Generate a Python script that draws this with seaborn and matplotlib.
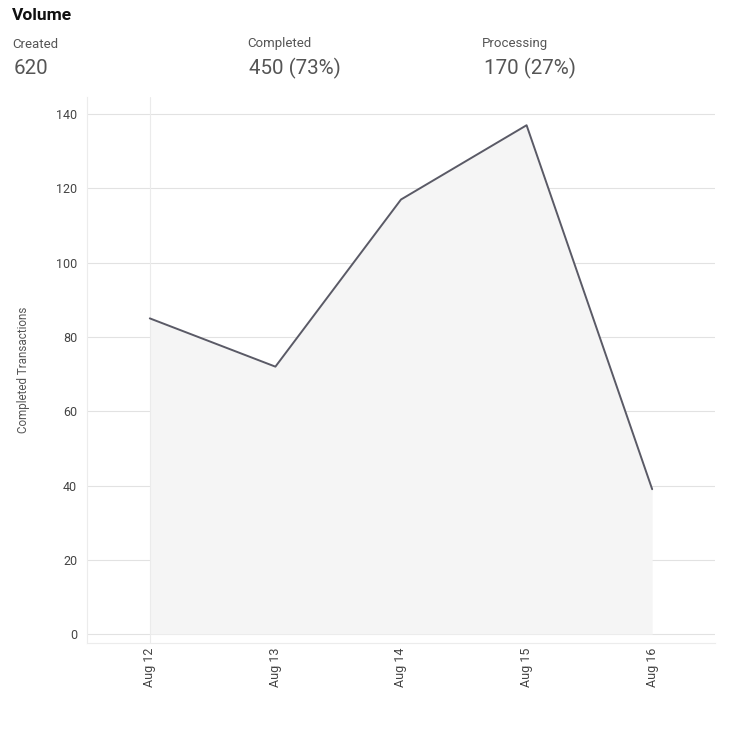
import numpy as np
import pandas as pd
import seaborn as sns
import matplotlib.pyplot as plt

days = ["Aug 12", "Aug 13", "Aug 14", "Aug 15", "Aug 16"]
completed = [85, 72, 117, 137, 39]
yticks = [0, 20, 40, 60, 80, 100, 120, 140]

summary_labels = ["Created", "Completed", "Processing"]
summary_values = ["620", "450 (73%)", "170 (27%)"]

df = pd.DataFrame({"day": days, "completed": completed})

sns.set_style("white")
plt.rcParams["font.family"] = ["Roboto", "DejaVu Sans"]

fig = plt.figure(figsize=(7.38, 7.31), dpi=100)
ax = fig.add_axes([0.1179, 0.1204, 0.8509, 0.7469])

pos = np.arange(len(days))
ax.fill_between(pos, df["completed"], 0, color="#f5f5f5", zorder=1, linewidth=0)
ax.axvline(0, color="#ebebeb", lw=0.8, zorder=1.5)
sns.lineplot(data=df, x="day", y="completed", ax=ax, color="#5a5a66", lw=1.4, zorder=3)

ax.set_xlim(-0.5, 4.5)
ax.set_ylim(-2.4, 144.6)
ax.set_yticks(yticks)
ax.yaxis.grid(True, color="#e2e2e2", lw=0.8, zorder=0)
ax.set_axisbelow(True)
ax.set_xticks(pos)
ax.set_xticklabels(days, rotation=90, fontsize=9, color="#444444")
ax.tick_params(axis="y", labelsize=9, labelcolor="#444444", length=0, pad=7)
ax.tick_params(axis="x", length=0, pad=3)
for s in ["top", "right"]:
    ax.spines[s].set_visible(False)
for s in ["left", "bottom"]:
    ax.spines[s].set_color("#ececec")
    ax.spines[s].set_linewidth(0.8)
ax.set_xlabel("")
ax.set_ylabel("Completed Transactions", fontsize=8.4, color="#555555", labelpad=19)

fig.text(12 / 738, 1 - 15 / 731, "Volume", fontsize=12.5, fontweight="bold", va="center", color="#111111")
xs = [12, 247, 482]
for x, lab, val in zip(xs, summary_labels, summary_values):
    fig.text(x / 738, 1 - 44 / 731, lab, fontsize=9.5, color="#555555", va="center")
    fig.text((x + 2) / 738, 1 - 68 / 731, val, fontsize=14.8, color="#555555", va="center")

fig.savefig("out.png", dpi=100)
